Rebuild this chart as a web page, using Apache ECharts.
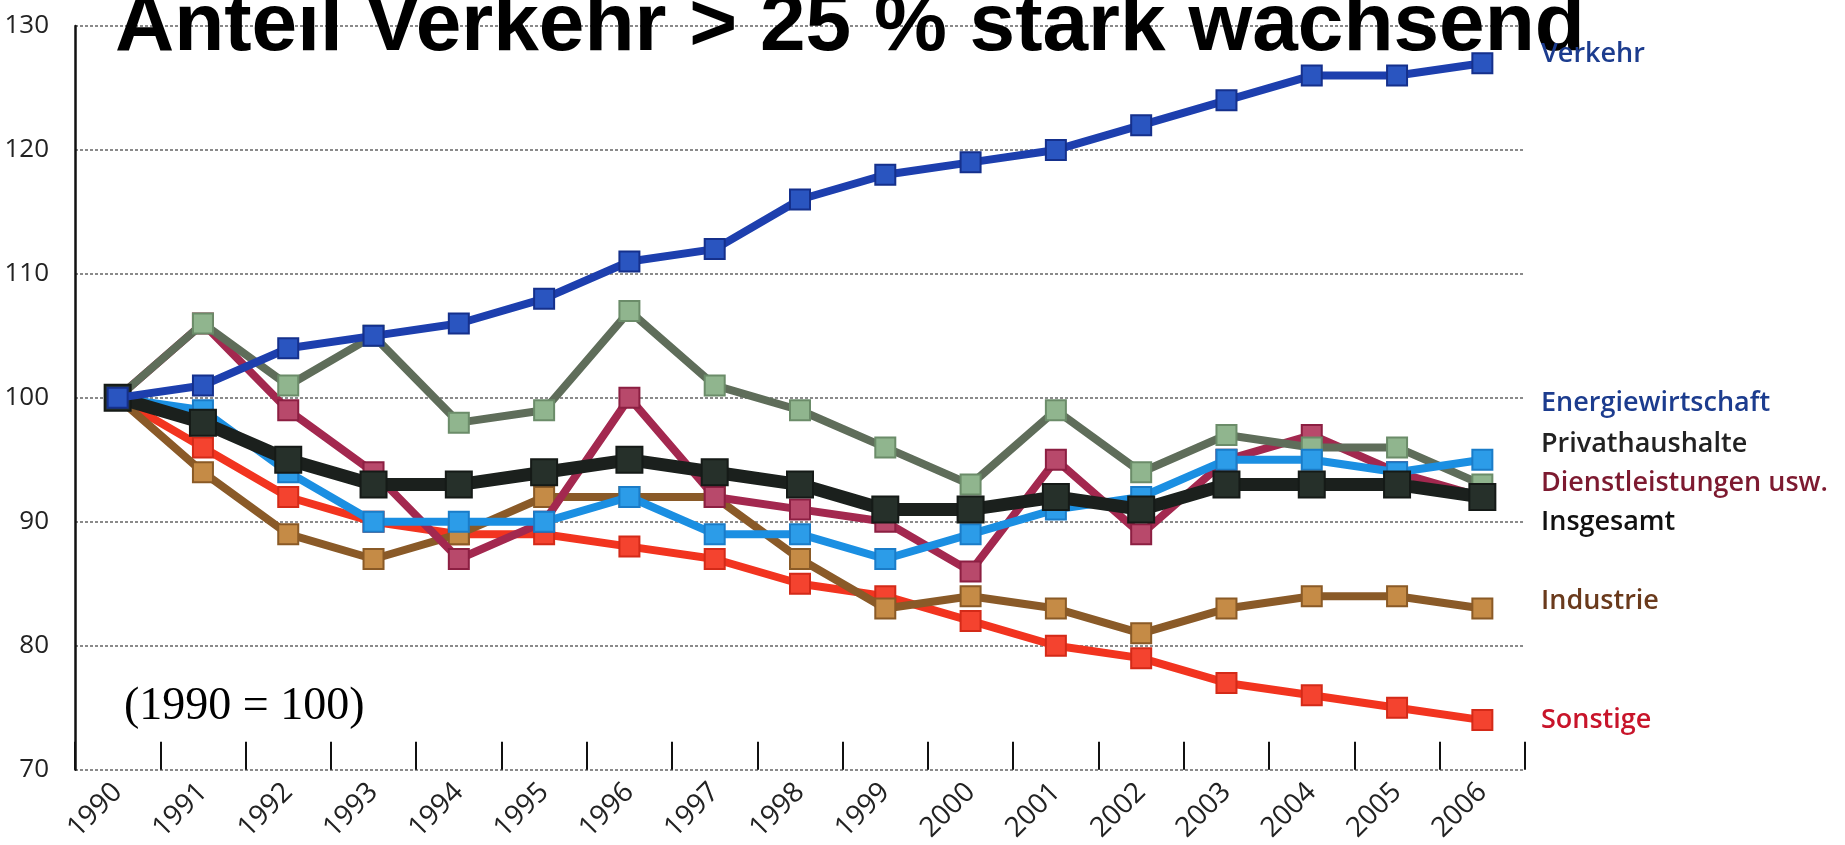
<!DOCTYPE html>
<html>
<head>
<meta charset="utf-8">
<script src="https://cdn.jsdelivr.net/npm/echarts@6/dist/echarts.min.js"></script>
<style>
  html, body { margin: 0; padding: 0; background: #fff; }
  #chart { width: 1845px; height: 845px; }
</style>
</head>
<body>
<div id="chart"></div>
<script>
// ---- data ----
const years = ['1990','1991','1992','1993','1994','1995','1996','1997','1998','1999','2000','2001','2002','2003','2004','2005','2006'];
const yTicks = [70, 80, 90, 100, 110, 120, 130];
const verkehr            = [100,101,104,105,106,108,111,112,116,118,119,120,122,124,126,126,127];
const energiewirtschaft  = [100, 99, 94, 90, 90, 90, 92, 89, 89, 87, 89, 91, 92, 95, 95, 94, 95];
const privathaushalte    = [100,106,101,105, 98, 99,107,101, 99, 96, 93, 99, 94, 97, 96, 96, 93];
const dienstleistungen   = [100,106, 99, 94, 87, 90,100, 92, 91, 90, 86, 95, 89, 95, 97, 94, 92];
const insgesamt          = [100, 98, 95, 93, 93, 94, 95, 94, 93, 91, 91, 92, 91, 93, 93, 93, 92];
const industrie          = [100, 94, 89, 87, 89, 92, 92, 92, 87, 83, 84, 83, 81, 83, 84, 84, 83];
const sonstige           = [100, 96, 92, 90, 89, 89, 88, 87, 85, 84, 82, 80, 79, 77, 76, 75, 74];
const seriesNames = ['Verkehr','Energiewirtschaft','Privathaushalte','Dienstleistungen usw.','Insgesamt','Industrie','Sonstige'];
const titleText = 'Anteil Verkehr > 25 % stark wachsend';
const noteText = '(1990 = 100)';

// ---- styles ----
const seriesDefs = [
  { name: seriesNames[6], data: sonstige,          line: '#f2341f', mark: '#f4432f', border: '#d42a18', width: 8, size: 20, z: 2 },
  { name: seriesNames[5], data: industrie,         line: '#8a5a28', mark: '#c58b46', border: '#8a5a26', width: 8, size: 20, z: 3 },
  { name: seriesNames[3], data: dienstleistungen,  line: '#a3284f', mark: '#b8496b', border: '#8c1f42', width: 8, size: 20, z: 4 },
  { name: seriesNames[2], data: privathaushalte,   line: '#5f6d5a', mark: '#90b58e', border: '#6b8c69', width: 8, size: 20, z: 5 },
  { name: seriesNames[1], data: energiewirtschaft, line: '#1b8fe2', mark: '#2c9ce8', border: '#1a7cc8', width: 8, size: 20, z: 6 },
  { name: seriesNames[4], data: insgesamt,         line: '#1b201d', mark: '#26302a', border: '#151a17', width: 13, size: 26, z: 7 },
  { name: seriesNames[0], data: verkehr,           line: '#1d3fae', mark: '#2a55c0', border: '#15308c', width: 8, size: 20, z: 8 }
];

const labelDefs = [
  { text: seriesNames[0], y: 54,  color: '#1c3c8e' },
  { text: seriesNames[1], y: 403, color: '#1c3c8e' },
  { text: seriesNames[2], y: 444, color: '#222222' },
  { text: seriesNames[3], y: 483, color: '#7d1a30' },
  { text: seriesNames[4], y: 522, color: '#111111' },
  { text: seriesNames[5], y: 601, color: '#6a3a1c' },
  { text: seriesNames[6], y: 720, color: '#c8142a' }
];

const chart = echarts.init(document.getElementById('chart'));

const graphics = labelDefs.map(l => ({
  type: 'text',
  x: 1541, y: l.y,
  z: 100,
  style: {
    text: l.text, fill: l.color,
    fontSize: 27, fontFamily: 'Open Sans', fontWeight: 600,
    verticalAlign: 'middle', align: 'left'
  }
}));
graphics.push({
  type: 'text', x: 124, y: 707, z: 100,
  style: { text: noteText, fill: '#000', fontSize: 46, fontFamily: 'Liberation Serif', verticalAlign: 'middle' }
});

chart.setOption({
  animation: false,
  backgroundColor: '#ffffff',
  title: {
    text: titleText,
    left: 110, top: -19,
    textStyle: { fontFamily: 'Liberation Sans', fontWeight: 'bold', fontSize: 82, color: '#000' },
    z: 50
  },
  grid: { left: 75, right: 320, top: 26, bottom: 74, containLabel: false },
  xAxis: {
    type: 'category',
    data: years,
    boundaryGap: true,
    axisLine: { show: false },
    axisTick: { show: true, inside: true, length: 28, alignWithLabel: false, lineStyle: { color: '#111', width: 2 } },
    axisLabel: { rotate: 45, margin: 18, fontSize: 28, fontFamily: 'Open Sans', color: '#222' },
    splitLine: { show: false }
  },
  yAxis: {
    type: 'value',
    min: yTicks[0], max: yTicks[yTicks.length - 1], interval: 10,
    axisLine: { show: true, lineStyle: { color: '#111', width: 2.5 } },
    axisTick: { show: false },
    axisLabel: { margin: 26, fontSize: 26, fontFamily: 'Open Sans', color: '#222' },
    splitLine: { show: true, lineStyle: { color: '#8a8a8a', width: 2, type: [3, 2] } }
  },
  graphic: graphics,
  series: seriesDefs.map(s => ({
    type: 'line',
    name: s.name,
    data: s.data,
    z: s.z,
    symbol: 'rect',
    symbolSize: s.size,
    showAllSymbol: true,
    lineStyle: { color: s.line, width: s.width },
    itemStyle: { color: s.mark, borderColor: s.border, borderWidth: 2 },
    emphasis: { disabled: true }
  }))
});
</script>
</body>
</html>
